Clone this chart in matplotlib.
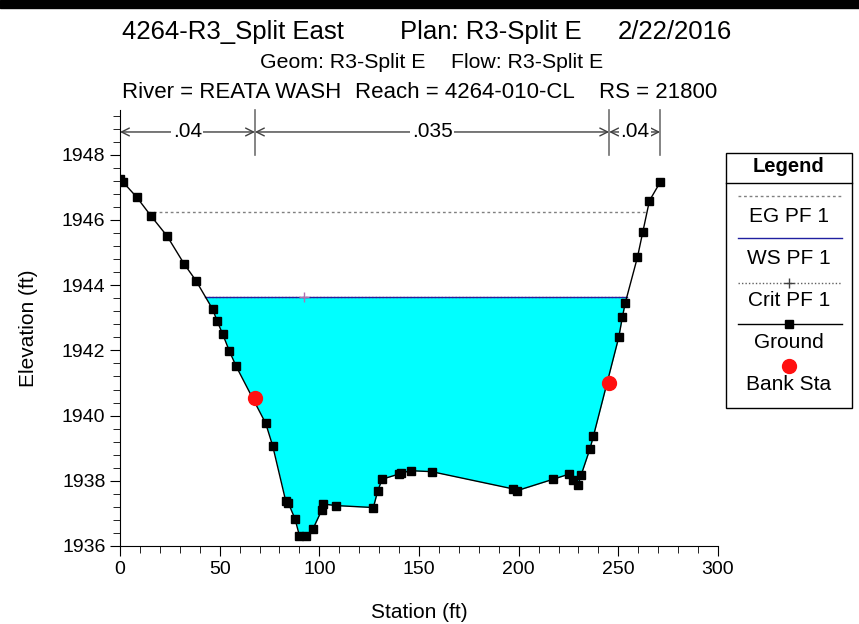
import numpy as np
import matplotlib
matplotlib.use("Agg")
import matplotlib.pyplot as plt
from matplotlib.lines import Line2D
from matplotlib.patches import Rectangle

plt.rcParams['font.family'] = ['Liberation Sans', 'DejaVu Sans']

# ---------------- data ----------------
station = [0, 1.4, 8.4, 15.6, 23.6, 32.1, 38.1, 46.5, 48.8, 51.5, 54.8, 58.2,
           73.1, 76.6, 83.1, 84.5, 87.8, 90.0, 93.3, 96.7, 101.2, 101.7, 108.4,
           127.1, 129.3, 131.5, 140.1, 141.0, 146.0, 156.4, 197.3, 199.3, 217.4,
           225.0, 227.4, 229.8, 231.3, 235.7, 237.5, 250.2, 252.0, 253.4, 259.6,
           262.3, 265.6, 271.0]
elevation = [1947.25, 1947.17, 1946.70, 1946.12, 1945.51, 1944.66, 1944.14,
             1943.26, 1942.89, 1942.50, 1941.99, 1941.52, 1939.76, 1939.07,
             1937.39, 1937.31, 1936.83, 1936.32, 1936.31, 1936.51, 1937.10,
             1937.29, 1937.24, 1937.18, 1937.69, 1938.05, 1938.21, 1938.24,
             1938.31, 1938.28, 1937.75, 1937.70, 1938.05, 1938.20, 1938.02,
             1937.87, 1938.17, 1938.97, 1939.37, 1942.40, 1943.01, 1943.44,
             1944.86, 1945.64, 1946.59, 1947.16]
bank_station = [67.7, 245.4]
bank_elev = [1940.55, 1941.01]
ws_elev = 1943.64
eg_elev = 1946.25
crit_elev = 1943.64
crit_station = 92.3
n_breaks = [0, 67.7, 245.4, 271.0]
n_values = ['.04', '.035', '.04']

title1_parts = ["4264-R3_Split East", "Plan: R3-Split E", "2/22/2016"]
title2_parts = ["Geom: R3-Split E", "Flow: R3-Split E"]
title3_parts = ["River = REATA WASH", "Reach = 4264-010-CL", "RS = 21800"]
legend_labels = ['EG PF 1', 'WS PF 1', 'Crit PF 1', 'Ground', 'Bank Sta']

st = np.array(station)
el = np.array(elevation)


def crossings(level):
    xs = []
    for i in range(len(st) - 1):
        a, b = el[i] - level, el[i + 1] - level
        if a == 0:
            xs.append(st[i])
        elif a * b < 0:
            xs.append(st[i] + (st[i + 1] - st[i]) * a / (a - b))
    return xs[0], xs[-1]


fig = plt.figure(figsize=(8.59, 6.24), dpi=100)
fig.patches.append(Rectangle((0, 1 - 8 / 624), 1, 8 / 624, transform=fig.transFigure,
                             color='black', zorder=10))

ax = fig.add_axes([120 / 859, 78 / 624, 598 / 859, 436 / 624])
ax.set_xlim(0, 300)
ax.set_ylim(1936, 1936 + 436 / 32.6)

# water fill
ax.fill_between(st, el, ws_elev, where=el < ws_elev, interpolate=True,
                color='#00FFFF', linewidth=0, zorder=1)

wl, wr = crossings(ws_elev)
ax.plot([wl, wr], [crit_elev, crit_elev], color='#E03030', lw=1.0, ls=(0, (1, 1.5)), zorder=2)
ax.plot([wl, wr], [ws_elev, ws_elev], color='#2020A0', lw=1.0, zorder=3)
ax.plot([crit_station], [crit_elev], marker='+', color='#B070B0', ms=7, mew=1, zorder=4)

el_l, el_r = crossings(eg_elev)
ax.plot([el_l, el_r], [eg_elev, eg_elev], color='#808080', lw=1.0, ls=(0, (2, 2)), zorder=2)

ax.plot(st, el, color='black', lw=1.0, marker='s', ms=6, zorder=5)
ax.plot(bank_station, bank_elev, 'o', color='#FF1010', ms=10, mec='#FF1010', zorder=6)

# Manning's n markers
ytop = ax.get_ylim()[1]
yarr = 1948.70
for x in n_breaks[1:]:
    ax.plot([x, x], [1948.0, ytop], color='#707070', lw=1.2, clip_on=False, zorder=5)
for i, lab in enumerate(n_values):
    x0, x1 = n_breaks[i], n_breaks[i + 1]
    ax.annotate('', xy=(x0, yarr), xytext=(x1, yarr),
                arrowprops=dict(arrowstyle='<->', color='#404040', lw=1.0,
                                shrinkA=0, shrinkB=0, mutation_scale=14))
    ax.text((x0 + x1) / 2, yarr, lab, ha='center', va='center', fontsize=15,
            bbox=dict(facecolor='white', edgecolor='none', pad=1.0), zorder=6)

for s in ['top', 'right']:
    ax.spines[s].set_visible(False)
ax.set_xticks(np.arange(0, 301, 50))
ax.set_xticks(np.arange(0, 301, 10), minor=True)
ax.set_yticks(np.arange(1936, 1949, 2))
ax.set_yticks(np.arange(1936, 1949.3, 0.4), minor=True)
ax.tick_params(which='major', length=7, labelsize=14, direction='out')
ax.tick_params(which='minor', length=5, direction='out')
ax.set_xlabel('Station (ft)', fontsize=15, labelpad=18)
ax.set_ylabel('Elevation (ft)', fontsize=15, labelpad=17)


def fx(px):
    return px / 859


def fy(py):
    return 1 - py / 624


# titles
fig.text(fx(122), fy(32), title1_parts[0], ha='left', va='center', fontsize=18.5)
fig.text(fx(400), fy(32), title1_parts[1], ha='left', va='center', fontsize=18.5)
fig.text(fx(732), fy(32), title1_parts[2], ha='right', va='center', fontsize=18.5)
fig.text(fx(260), fy(63), title2_parts[0], ha='left', va='center', fontsize=15.3)
fig.text(fx(603), fy(63), title2_parts[1], ha='right', va='center', fontsize=15.3)
fig.text(fx(122), fy(93), title3_parts[0], ha='left', va='center', fontsize=16)
fig.text(fx(355), fy(93), title3_parts[1], ha='left', va='center', fontsize=16)
fig.text(fx(717), fy(93), title3_parts[2], ha='right', va='center', fontsize=16)

# legend box
lx0, lx1, ly0, ly1 = 726, 852, 153, 408
fig.patches.append(Rectangle((fx(lx0), fy(ly1)), fx(lx1) - fx(lx0), fy(ly0) - fy(ly1),
                             transform=fig.transFigure, fill=False, edgecolor='black', lw=1))
fig.lines.append(Line2D([fx(lx0), fx(lx1)], [fy(183), fy(183)], transform=fig.transFigure,
                        color='black', lw=1))
cx = (lx0 + lx1) / 2
fig.text(fx(cx), fy(167), 'Legend', ha='center', va='center', fontsize=14.5, fontweight='bold')
lx_a, lx_b = 738, 842
fig.lines.append(Line2D([fx(lx_a), fx(lx_b)], [fy(196), fy(196)], transform=fig.transFigure,
                        color='#808080', lw=1, ls=(0, (2, 2))))
fig.lines.append(Line2D([fx(lx_a), fx(lx_b)], [fy(238), fy(238)], transform=fig.transFigure,
                        color='#2020A0', lw=1))
fig.lines.append(Line2D([fx(lx_a), fx(lx_b)], [fy(283), fy(283)], transform=fig.transFigure,
                        color='#606060', lw=1, ls=(0, (1, 1.5))))
fig.lines.append(Line2D([fx(cx)], [fy(283)], transform=fig.transFigure, marker='+',
                        color='#404040', ms=7, lw=0))
fig.lines.append(Line2D([fx(lx_a), fx(lx_b)], [fy(324), fy(324)], transform=fig.transFigure,
                        color='black', lw=1))
fig.lines.append(Line2D([fx(cx)], [fy(324)], transform=fig.transFigure, marker='s',
                        color='black', ms=6, lw=0))
fig.lines.append(Line2D([fx(cx)], [fy(366)], transform=fig.transFigure, marker='o',
                        color='#FF1010', ms=10, lw=0))
for lab, ypx in zip(legend_labels, [216, 258, 300, 342, 385]):
    fig.text(fx(cx), fy(ypx), lab, ha='center', va='center', fontsize=15)

fig.savefig('out.png', dpi=100)
